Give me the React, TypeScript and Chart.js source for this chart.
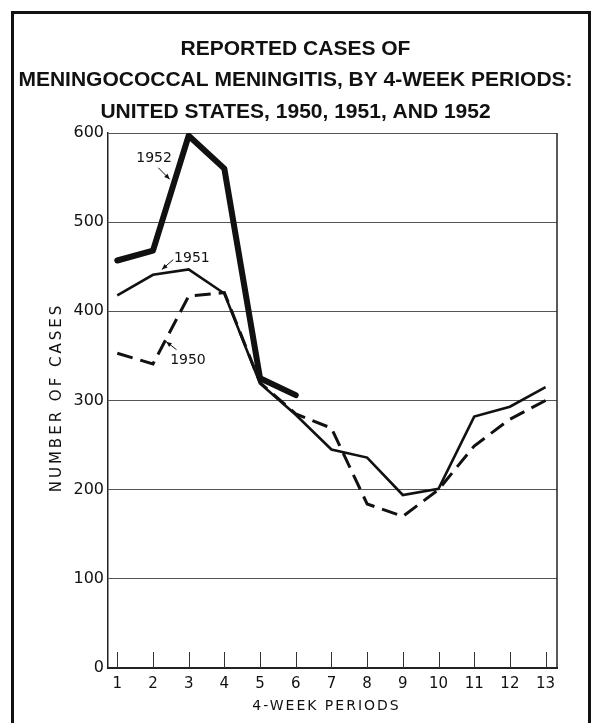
import { useEffect, useRef } from 'react';
import { Chart, registerables } from 'chart.js';

Chart.register(...registerables);

const titleLines = [
  'REPORTED CASES OF',
  'MENINGOCOCCAL MENINGITIS, BY 4-WEEK PERIODS:',
  'UNITED STATES, 1950, 1951, AND 1952',
];
const xAxisTitle = '4-WEEK PERIODS';
const yAxisTitle = 'NUMBER OF CASES';

const periods = [1, 2, 3, 4, 5, 6, 7, 8, 9, 10, 11, 12, 13];
const cases1950 = [353, 341, 417, 421, 320, 285, 269, 184, 170, 200, 249, 279, 300];
const cases1951 = [418, 441, 447, 420, 319, 284, 245, 236, 194, 201, 282, 293, 315];
const cases1952 = [457, 468, 597, 560, 325, 306];
const yTickValues = [0, 100, 200, 300, 400, 500, 600];
const seriesNames = ['1950', '1951', '1952'];

// call-out labels, positioned in data units (period, cases)
const callouts = [
  { text: '1952', at: [2.03, 571], from: [2.15, 561], to: [2.47, 548] },
  { text: '1951', at: [3.09, 459], from: [2.57, 458], to: [2.25, 447] },
  { text: '1950', at: [2.98, 345], from: [2.66, 357], to: [2.37, 366] },
];

const INK = '#111';

const decor = {
  id: 'decor',
  beforeDraw(chart: any) {
    const { ctx, width, height } = chart;
    ctx.save();
    ctx.strokeStyle = INK;
    ctx.lineWidth = 3;
    ctx.beginPath();
    ctx.moveTo(12.5, height);
    ctx.lineTo(12.5, 12.5);
    ctx.lineTo(width - 1.5, 12.5);
    ctx.lineTo(width - 1.5, height);
    ctx.stroke();
    ctx.restore();
  },
  beforeDatasetsDraw(chart: any) {
    const { ctx, chartArea, scales } = chart;
    const xs = scales.x;
    ctx.save();
    ctx.strokeStyle = '#333';
    ctx.lineWidth = 1;
    periods.forEach((p) => {
      const px = Math.round(xs.getPixelForValue(p)) + 0.5;
      ctx.beginPath();
      ctx.moveTo(px, chartArea.bottom);
      ctx.lineTo(px, chartArea.bottom - 16);
      ctx.stroke();
    });
    ctx.strokeStyle = '#222';
    ctx.lineWidth = 1.5;
    ctx.beginPath();
    ctx.moveTo(chartArea.right, chartArea.top);
    ctx.lineTo(chartArea.right, chartArea.bottom);
    ctx.stroke();
    ctx.restore();
  },
  afterDraw(chart: any) {
    const { ctx, chartArea, scales } = chart;
    const xs = scales.x;
    const ys = scales.y;
    ctx.save();
    ctx.fillStyle = INK;
    ctx.strokeStyle = INK;
    // axis titles
    ctx.textAlign = 'center';
    ctx.textBaseline = 'middle';
    ctx.font = '14px "DejaVu Sans"';
    (ctx as any).letterSpacing = '2px';
    ctx.fillText(xAxisTitle, (chartArea.left + chartArea.right) / 2 - 6, chartArea.bottom + 38);
    ctx.save();
    ctx.translate(57, (chartArea.top + chartArea.bottom) / 2 - 3);
    ctx.rotate(-Math.PI / 2);
    ctx.font = '15px "DejaVu Sans"';
    (ctx as any).letterSpacing = '3px';
    ctx.fillText(yAxisTitle, 0, 0);
    ctx.restore();
    (ctx as any).letterSpacing = '0px';
    // call-outs
    ctx.font = '14px "DejaVu Sans"';
    callouts.forEach((c) => {
      const tx = xs.getPixelForValue(c.at[0]);
      const ty = ys.getPixelForValue(c.at[1]);
      ctx.fillText(c.text, tx, ty);
      const fx = xs.getPixelForValue(c.from[0]);
      const fy = ys.getPixelForValue(c.from[1]);
      const ex = xs.getPixelForValue(c.to[0]);
      const ey = ys.getPixelForValue(c.to[1]);
      ctx.lineWidth = 1;
      ctx.beginPath();
      ctx.moveTo(fx, fy);
      ctx.lineTo(ex, ey);
      ctx.stroke();
      const ang = Math.atan2(ey - fy, ex - fx);
      const L = 6;
      ctx.beginPath();
      ctx.moveTo(ex, ey);
      ctx.lineTo(ex - L * Math.cos(ang - 0.4), ey - L * Math.sin(ang - 0.4));
      ctx.lineTo(ex - L * Math.cos(ang + 0.4), ey - L * Math.sin(ang + 0.4));
      ctx.closePath();
      ctx.fill();
    });
    ctx.restore();
  },
};

function toPoints(values: number[]) {
  return values.map((v, i) => ({ x: periods[i], y: v }));
}

export default function App() {
  const ref = useRef<HTMLCanvasElement | null>(null);

  useEffect(() => {
    document.body.style.margin = '0';
    const canvas = ref.current;
    if (!canvas) return;
    const chart = new Chart(canvas, {
      type: 'line',
      data: {
        datasets: [
          {
            label: seriesNames[0],
            data: toPoints(cases1950),
            borderColor: INK,
            borderWidth: 3,
            borderDash: [16, 8],
            pointRadius: 0,
            tension: 0,
            fill: false,
          },
          {
            label: seriesNames[1],
            data: toPoints(cases1951),
            borderColor: INK,
            borderWidth: 2.6,
            pointRadius: 0,
            tension: 0,
            fill: false,
          },
          {
            label: seriesNames[2],
            data: toPoints(cases1952),
            borderColor: INK,
            borderWidth: 6,
            borderJoinStyle: 'round',
            borderCapStyle: 'round',
            pointRadius: 0,
            tension: 0,
            fill: false,
          },
        ],
      },
      options: {
        animation: false,
        responsive: true,
        maintainAspectRatio: false,
        layout: { padding: 0 },
        plugins: {
          legend: { display: false },
          tooltip: { enabled: false },
          title: {
            display: true,
            text: titleLines,
            color: INK,
            font: { family: '"Liberation Sans"', size: 21, weight: 'bold', lineHeight: 1.5 },
            padding: { top: 33, bottom: 5.5 },
          },
        },
        scales: {
          x: {
            type: 'linear',
            min: 0.74,
            max: 13.32,
            afterFit: (s: any) => {
              s.height = 55;
            },
            afterBuildTicks: (s: any) => {
              s.ticks = periods.map((p) => ({ value: p }));
            },
            ticks: {
              autoSkip: false,
              maxRotation: 0,
              padding: 7,
              color: INK,
              font: { family: '"DejaVu Sans"', size: 15 },
              callback: (v: any) => String(v),
            },
            grid: { display: false, drawTicks: false },
            border: { display: true, color: '#222', width: 2 },
          },
          y: {
            type: 'linear',
            min: 0,
            max: 600,
            afterFit: (s: any) => {
              s.width = 108;
            },
            afterBuildTicks: (s: any) => {
              s.ticks = yTickValues.map((v) => ({ value: v }));
            },
            ticks: {
              padding: 4,
              color: INK,
              font: { family: '"DejaVu Sans"', size: 16 },
            },
            grid: { color: '#555', lineWidth: 1, drawTicks: false },
            border: { display: true, color: '#222', width: 1.5 },
          },
          // empty right-hand margin scale (keeps the plot's right edge in place)
          yRight: {
            type: 'linear',
            position: 'right',
            min: 0,
            max: 600,
            afterFit: (s: any) => {
              s.width = 34;
            },
            ticks: { display: false },
            grid: { display: false, drawTicks: false },
            border: { display: false },
          },
        },
      },
      plugins: [decor],
    } as any);
    return () => chart.destroy();
  }, []);

  return (
    <div style={{ position: 'relative', width: 591, height: 723 }}>
      <canvas ref={ref} />
    </div>
  );
}
